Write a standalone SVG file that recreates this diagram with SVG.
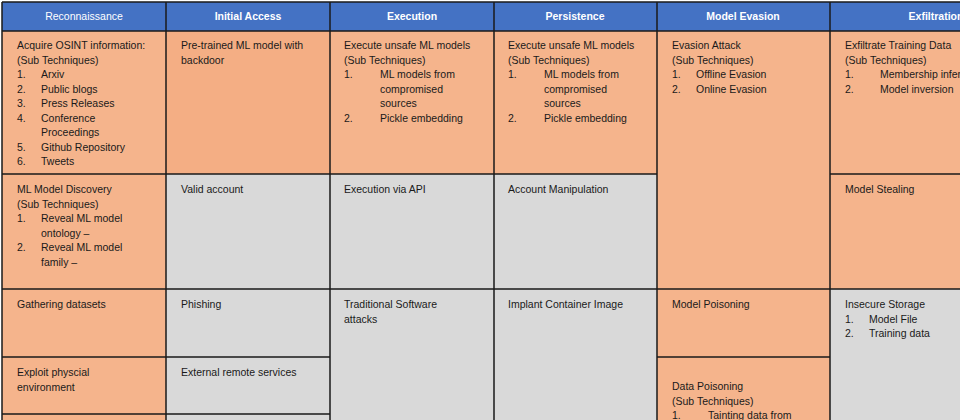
<svg xmlns="http://www.w3.org/2000/svg" width="960" height="420" viewBox="0 0 960 420">
<style>
.h{fill:#4472C4}.o{fill:#F5B48C}.o2{fill:#F4AE84}.g{fill:#D9D9D9}
.ln{stroke:#1a1a1a;stroke-width:1.5;fill:none}
text{font-family:"Liberation Sans",Arial,sans-serif;font-size:10.5px;fill:#1a1a1a}
.ht{fill:#fff;font-weight:bold;text-anchor:middle}
</style>
<rect width="960" height="420" fill="#fff"/>
<g id="headers">
<rect class="h" x="2" y="2" width="958" height="29"/>
<text class="ht" x="84" y="20" style="font-weight:normal">Reconnaissance</text>
<text class="ht" x="248" y="20">Initial Access</text>
<text class="ht" x="412" y="20">Execution</text>
<text class="ht" x="575" y="20">Persistence</text>
<text class="ht" x="743" y="20">Model Evasion</text>
<text class="ht" x="936" y="20">Exfiltration</text>
</g>
<g id="recon">
<rect class="o" x="2" y="31" width="164" height="389"/>
<text x="17" y="49">Acquire OSINT information:</text>
<text x="17" y="63.5">(Sub Techniques)</text>
<text x="17" y="78">1.</text><text x="41" y="78">Arxiv</text>
<text x="17" y="92.5">2.</text><text x="41" y="92.5">Public blogs</text>
<text x="17" y="107">3.</text><text x="41" y="107">Press Releases</text>
<text x="17" y="121.5">4.</text><text x="41" y="121.5">Conference</text>
<text x="41" y="136">Proceedings</text>
<text x="17" y="150.5">5.</text><text x="41" y="150.5">Github Repository</text>
<text x="17" y="165">6.</text><text x="41" y="165">Tweets</text>
<text x="17" y="193">ML Model Discovery</text>
<text x="17" y="207.5">(Sub Techniques)</text>
<text x="17" y="222">1.</text><text x="41" y="222">Reveal ML model</text>
<text x="41" y="236.5">ontology –</text>
<text x="17" y="251">2.</text><text x="41" y="251">Reveal ML model</text>
<text x="41" y="265.5">family –</text>
<text x="17" y="308">Gathering datasets</text>
<text x="17" y="376">Exploit physcial</text>
<text x="17" y="390.5">environment</text>
</g>
<g id="initial">
<rect class="o2" x="166" y="31" width="164" height="143"/>
<rect class="g" x="166" y="174" width="164" height="246"/>
<text x="181" y="49">Pre-trained ML model with</text>
<text x="181" y="63.5">backdoor</text>
<text x="181" y="193">Valid account</text>
<text x="181" y="308">Phishing</text>
<text x="181" y="376">External remote services</text>
</g>
<g id="execution">
<rect class="o" x="330" y="31" width="164" height="143"/>
<rect class="g" x="330" y="174" width="164" height="246"/>
<text x="344" y="49">Execute unsafe ML models</text>
<text x="344" y="63.5">(Sub Techniques)</text>
<text x="344" y="78">1.</text><text x="380" y="78">ML models from</text>
<text x="380" y="92.5">compromised</text>
<text x="380" y="107">sources</text>
<text x="344" y="121.5">2.</text><text x="380" y="121.5">Pickle embedding</text>
<text x="344" y="193">Execution via API</text>
<text x="344" y="308">Traditional Software</text>
<text x="344" y="322.5">attacks</text>
</g>
<g id="persistence">
<rect class="o" x="494" y="31" width="163" height="143"/>
<rect class="g" x="494" y="174" width="163" height="246"/>
<text x="508" y="49">Execute unsafe ML models</text>
<text x="508" y="63.5">(Sub Techniques)</text>
<text x="508" y="78">1.</text><text x="544" y="78">ML models from</text>
<text x="544" y="92.5">compromised</text>
<text x="544" y="107">sources</text>
<text x="508" y="121.5">2.</text><text x="544" y="121.5">Pickle embedding</text>
<text x="508" y="193">Account Manipulation</text>
<text x="508" y="308">Implant Container Image</text>
</g>
<g id="evasion">
<rect class="o" x="657" y="31" width="173" height="389"/>
<text x="672" y="49">Evasion Attack</text>
<text x="672" y="63.5">(Sub Techniques)</text>
<text x="672" y="78">1.</text><text x="696" y="78">Offline Evasion</text>
<text x="672" y="92.5">2.</text><text x="696" y="92.5">Online Evasion</text>
<text x="672" y="308">Model Poisoning</text>
<text x="672" y="390">Data Poisoning</text>
<text x="672" y="404.5">(Sub Techniques)</text>
<text x="672" y="419">1.</text><text x="708" y="419">Tainting data from</text>
</g>
<g id="exfiltration">
<rect class="o" x="830" y="31" width="130" height="258"/>
<rect class="g" x="830" y="289" width="130" height="131"/>
<text x="845" y="49">Exfiltrate Training Data</text>
<text x="845" y="63.5">(Sub Techniques)</text>
<text x="845" y="78">1.</text><text x="880" y="78">Membership inference</text>
<text x="845" y="92.5">2.</text><text x="880" y="92.5">Model inversion</text>
<text x="845" y="193">Model Stealing</text>
<text x="845" y="308">Insecure Storage</text>
<text x="845" y="322.5">1.</text><text x="869" y="322.5">Model File</text>
<text x="845" y="337">2.</text><text x="869" y="337">Training data</text>
</g>
<g id="connectors">
<path class="ln" d="M2 2V420M166 2V420M330 2V420M494 2V420M657 2V420M830 2V420M2 2H960M2 31H960"/>
<path class="ln" d="M2 174H657M830 174H960M2 289H960M2 357H330M657 357H830M2 414H330"/>
</g>
</svg>
